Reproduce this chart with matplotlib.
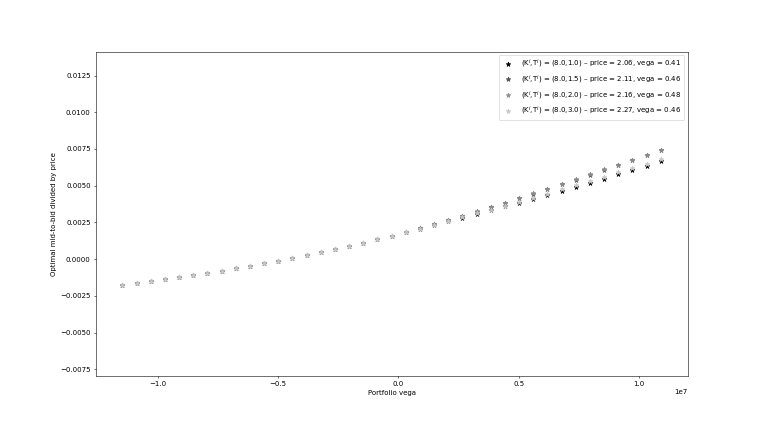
import matplotlib
matplotlib.use("Agg")
import matplotlib.pyplot as plt

portfolio_vega = [-11.470e6, -10.881e6, -10.293e6, -9.704e6, -9.115e6, -8.527e6, -7.938e6,
                  -7.349e6, -6.761e6, -6.172e6, -5.583e6, -4.995e6, -4.406e6, -3.817e6,
                  -3.229e6, -2.640e6, -2.051e6, -1.463e6, -0.874e6, -0.285e6, 0.304e6,
                  0.892e6, 1.481e6, 2.070e6, 2.658e6, 3.247e6, 3.836e6, 4.424e6, 5.013e6,
                  5.602e6, 6.190e6, 6.779e6, 7.368e6, 7.956e6, 8.545e6, 9.134e6, 9.722e6,
                  10.311e6, 10.900e6]

mtb_T10 = [-0.00175, -0.00163, -0.00150, -0.00137, -0.00123, -0.00109, -0.00094, -0.00079,
           -0.00063, -0.00046, -0.00029, -0.00011, 0.00008, 0.00027, 0.00047, 0.00068,
           0.00090, 0.00112, 0.00135, 0.00159, 0.00182, 0.00207, 0.00232, 0.00257, 0.00282,
           0.00307, 0.00333, 0.00359, 0.00385, 0.00411, 0.00438, 0.00465, 0.00492, 0.00519,
           0.00548, 0.00577, 0.00606, 0.00636, 0.00667]
mtb_T15 = [-0.00175, -0.00163, -0.00150, -0.00137, -0.00123, -0.00109, -0.00094, -0.00079,
           -0.00063, -0.00046, -0.00029, -0.00011, 0.00008, 0.00027, 0.00047, 0.00068,
           0.00090, 0.00112, 0.00135, 0.00159, 0.00184, 0.00210, 0.00237, 0.00265, 0.00294,
           0.00323, 0.00353, 0.00383, 0.00414, 0.00445, 0.00477, 0.00509, 0.00541, 0.00574,
           0.00607, 0.00640, 0.00673, 0.00706, 0.00740]
mtb_T20 = [-0.00175, -0.00163, -0.00150, -0.00137, -0.00123, -0.00109, -0.00094, -0.00079,
           -0.00063, -0.00046, -0.00029, -0.00011, 0.00008, 0.00027, 0.00047, 0.00068,
           0.00090, 0.00112, 0.00135, 0.00159, 0.00184, 0.00211, 0.00238, 0.00266, 0.00295,
           0.00325, 0.00355, 0.00385, 0.00416, 0.00448, 0.00480, 0.00512, 0.00545, 0.00578,
           0.00611, 0.00644, 0.00678, 0.00711, 0.00745]
mtb_T30 = [-0.00175, -0.00163, -0.00150, -0.00137, -0.00123, -0.00109, -0.00094, -0.00079,
           -0.00063, -0.00046, -0.00029, -0.00011, 0.00008, 0.00027, 0.00047, 0.00068,
           0.00090, 0.00112, 0.00135, 0.00159, 0.00182, 0.00208, 0.00233, 0.00259, 0.00285,
           0.00311, 0.00337, 0.00364, 0.00391, 0.00418, 0.00447, 0.00475, 0.00503, 0.00531,
           0.00561, 0.00591, 0.00621, 0.00651, 0.00683]

labels = ["(K$^i$,T$^i$) = (8.0,1.0) \u2013 price = 2.06, vega = 0.41",
          "(K$^i$,T$^i$) = (8.0,1.5) \u2013 price = 2.11, vega = 0.46",
          "(K$^i$,T$^i$) = (8.0,2.0) \u2013 price = 2.16, vega = 0.48",
          "(K$^i$,T$^i$) = (8.0,3.0) \u2013 price = 2.27, vega = 0.46"]
series = [mtb_T10, mtb_T15, mtb_T20, mtb_T30]
colors = ["0.0", "0.3", "0.55", "0.78"]

fig = plt.figure(figsize=(15.28, 8.6), dpi=50)
ax = fig.add_subplot(111)
fig.subplots_adjust(left=0.125, right=0.9, top=0.88, bottom=0.125)

for y, c, lab in zip(series, colors, labels):
    ax.plot(portfolio_vega, y, linestyle="none", marker="*", markersize=7,
            color=c, label=lab)

ax.set_ylim(-0.00797, 0.01413)
ax.set_xlabel("Portfolio vega")
ax.set_ylabel("Optimal mid-to-bid divided by price")
ax.legend(loc="upper right")

fig.savefig("out.png", dpi=50)
